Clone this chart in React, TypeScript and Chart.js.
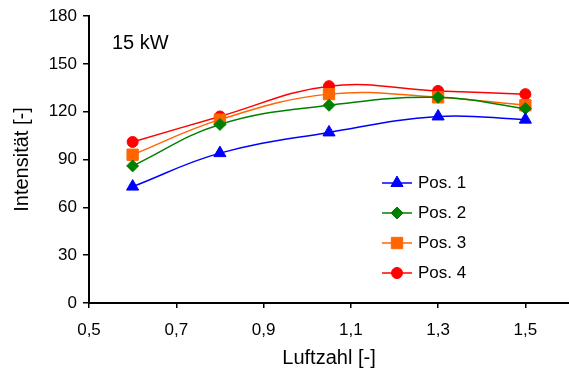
import React, { useEffect, useRef } from "react";
import { Chart, registerables } from "chart.js";
import { drawPoint } from "chart.js/helpers";

Chart.register(...registerables);

const luftzahl = [0.6, 0.8, 1.05, 1.3, 1.5];
const pos1 = [73, 94, 107, 117, 115];
const pos2 = [86, 112, 124, 129, 122];
const pos3 = [93, 115, 131, 129, 124];
const pos4 = [101, 117, 136, 133, 131];
const seriesNames = ["Pos. 1", "Pos. 2", "Pos. 3", "Pos. 4"];
const xTickValues = [0.5, 0.7, 0.9, 1.1, 1.3, 1.5];
const xTickLabels = ["0,5", "0,7", "0,9", "1,1", "1,3", "1,5"];
const yTickValues = [0, 30, 60, 90, 120, 150, 180];
const annotationText = "15 kW";
const xTitle = "Luftzahl [-]";
const yTitle = "Intensität [-]";

const FONT = '"Liberation Sans", Arial, sans-serif';

const overlayPlugin = {
  id: "overlay",
  afterDraw(chart: any) {
    const ctx = chart.ctx;
    ctx.save();
    ctx.fillStyle = "#000";
    ctx.textBaseline = "middle";
    ctx.textAlign = "left";
    ctx.font = `20px ${FONT}`;
    ctx.fillText(annotationText, 112, 43);
    chart.data.datasets.forEach((ds: any, i: number) => {
      const y = 183 + i * 30;
      ctx.strokeStyle = ds.borderColor;
      ctx.lineWidth = 1.5;
      ctx.beginPath();
      ctx.moveTo(382, y);
      ctx.lineTo(412, y);
      ctx.stroke();
      ctx.fillStyle = ds.backgroundColor;
      ctx.lineWidth = 1;
      drawPoint(
        ctx,
        { pointStyle: ds.pointStyle, radius: ds.pointRadius, borderWidth: 1, rotation: 0 } as any,
        397,
        y
      );
      ctx.fillStyle = "#000";
      ctx.font = `17px ${FONT}`;
      ctx.fillText(ds.label, 418, y);
    });
    ctx.restore();
  },
};

function makeData(values: number[]) {
  return luftzahl.map((x, i) => ({ x, y: values[i] }));
}

export default function App() {
  const canvasRef = useRef<HTMLCanvasElement | null>(null);

  useEffect(() => {
    document.body.style.margin = "0";
    const canvas = canvasRef.current!;
    Chart.defaults.font.family = FONT;
    Chart.defaults.color = "#000";
    const styles = [
      { color: "#0000FF", style: "triangle", r: 7 },
      { color: "#008000", style: "rectRot", r: 6 },
      { color: "#FF6600", style: "rect", r: 8 },
      { color: "#FF0000", style: "circle", r: 5.5 },
    ];
    const all = [pos1, pos2, pos3, pos4];
    const chart = new Chart(canvas, {
      type: "line",
      data: {
        datasets: all.map((vals, i) => ({
          label: seriesNames[i],
          data: makeData(vals),
          borderColor: styles[i].color,
          backgroundColor: styles[i].color,
          pointStyle: styles[i].style as any,
          pointRadius: styles[i].r,
          pointBorderWidth: 1,
          borderWidth: 1.5,
          tension: 0.4,
          fill: false,
        })),
      },
      options: {
        responsive: false,
        animation: false,
        layout: { autoPadding: false, padding: { top: 16, right: 0, left: 0, bottom: 0 } },
        plugins: {
          legend: { display: false },
          tooltip: { enabled: false },
        },
        scales: {
          x: {
            type: "linear",
            min: 0.5,
            max: 1.6,
            afterBuildTicks: (scale: any) => {
              scale.ticks = xTickValues.map((v) => ({ value: v }));
            },
            afterFit: (scale: any) => {
              scale.height = 74;
              scale.paddingLeft = 0;
              scale.paddingRight = 0;
            },
            ticks: {
              font: { size: 17 },
              padding: 12,
              maxRotation: 0,
              autoSkip: false,
              callback: (v: any) => {
                const idx = xTickValues.findIndex((t) => Math.abs(t - v) < 1e-6);
                return idx >= 0 ? xTickLabels[idx] : "";
              },
            },
            grid: {
              drawOnChartArea: false,
              drawTicks: true,
              tickLength: 5,
              color: "#000",
              lineWidth: 1.5,
            },
            border: { display: true, color: "#000", width: 2 },
            title: {
              display: true,
              text: xTitle,
              font: { size: 20 },
              padding: { top: 4, bottom: 7 },
            },
          },
          y: {
            type: "linear",
            min: 0,
            max: 180,
            afterBuildTicks: (scale: any) => {
              scale.ticks = yTickValues.map((v) => ({ value: v }));
            },
            afterFit: (scale: any) => {
              scale.width = 89;
              scale.paddingTop = 0;
              scale.paddingBottom = 0;
            },
            ticks: {
              font: { size: 17 },
              padding: 6,
              autoSkip: false,
              callback: (v: any) => String(v),
            },
            grid: {
              drawOnChartArea: false,
              drawTicks: true,
              tickLength: 6,
              color: "#000",
              lineWidth: 1.5,
            },
            border: { display: true, color: "#000", width: 2 },
            title: {
              display: true,
              text: yTitle,
              font: { size: 20 },
              padding: { top: 10, bottom: 0 },
            },
          },
        },
      },
      plugins: [overlayPlugin],
    });
    return () => chart.destroy();
  }, []);

  return <canvas ref={canvasRef} width={569} height={377} style={{ display: "block" }} />;
}
